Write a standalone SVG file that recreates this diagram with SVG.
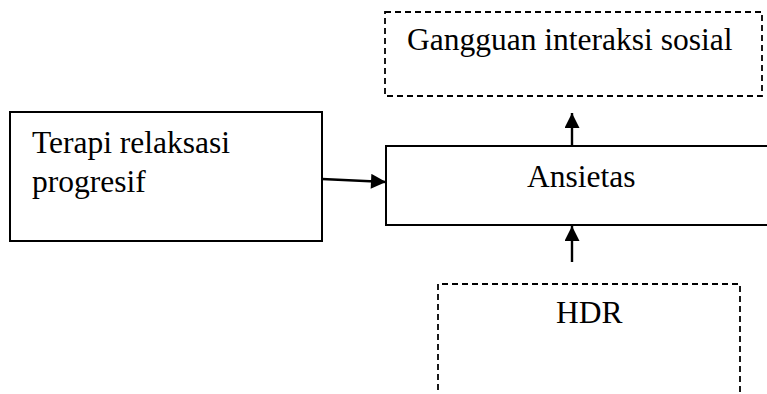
<svg xmlns="http://www.w3.org/2000/svg" width="767" height="394" viewBox="0 0 767 394">
<style>
.box{fill:#fff;stroke:#000;stroke-width:2}
.dash{fill:none;stroke:#000;stroke-width:1.8;stroke-dasharray:6 4}
.t{font-family:"Liberation Serif","Times New Roman",serif;font-size:31.5px;fill:#000}
.c{stroke:#000;stroke-width:2.4;fill:none}
</style>
<defs>
<marker id="ah2" viewBox="0 0 10 10" refX="10" refY="5" markerWidth="16" markerHeight="15" orient="auto" markerUnits="userSpaceOnUse">
<path d="M0,0 L10,5 L0,10 z" fill="#000"/>
</marker>
</defs>
<g id="node-gangguan">
<rect class="dash" x="385" y="12" width="377" height="84"/>
<text class="t" x="407" y="50">Gangguan interaksi sosial</text>
</g>
<g id="node-terapi">
<rect class="box" x="10" y="112" width="312" height="129"/>
<text class="t" x="32" y="153">Terapi relaksasi</text>
<text class="t" x="32" y="192">progresif</text>
</g>
<g id="node-ansietas">
<rect class="box" x="386" y="146" width="382" height="79"/>
<text class="t" x="527" y="187">Ansietas</text>
</g>
<g id="node-hdr">
<path class="dash" d="M438,400 L438,284 L740,284 L740,400"/>
<text class="t" x="556" y="323">HDR</text>
</g>
<g id="connectors">
<line class="c" x1="322" y1="179" x2="386" y2="182" marker-end="url(#ah2)"/>
<line class="c" x1="572" y1="146" x2="572" y2="113" marker-end="url(#ah2)"/>
<line class="c" x1="572" y1="262" x2="572" y2="226" marker-end="url(#ah2)"/>
</g>
</svg>
